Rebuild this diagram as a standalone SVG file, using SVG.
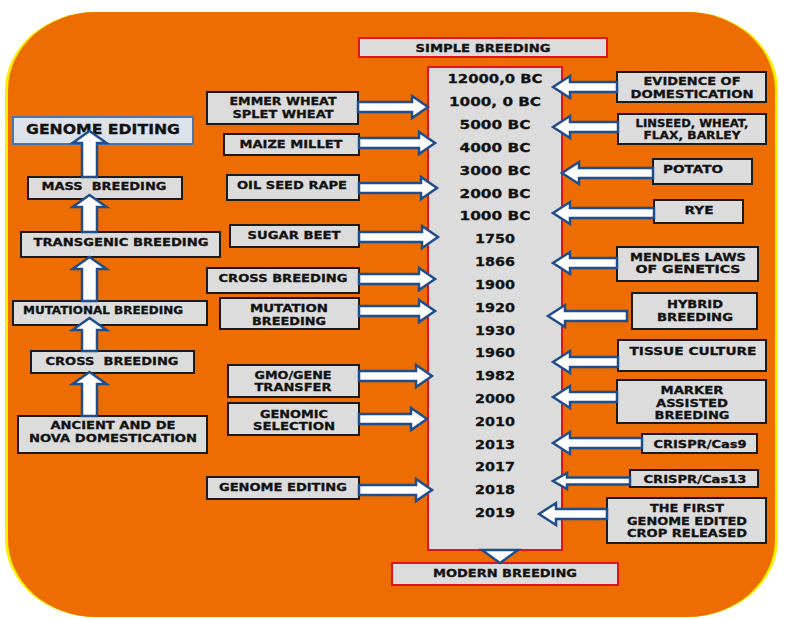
<svg xmlns="http://www.w3.org/2000/svg" width="787" height="619" viewBox="0 0 787 619">
<style>
.bg{fill:#EE6D02}
.bgy{fill:#F8F000}
.box{fill:#DCDCDC;stroke:#1A1A1A;stroke-width:2}
.blue{fill:#DCE2EA;stroke:#4A74B0;stroke-width:2}
.red{fill:#DCDCDC;stroke:#E0141A;stroke-width:2}
.arr{fill:#FFFFFF;stroke:#1F4E8C;stroke-width:2.5;stroke-linejoin:miter}
text{font-family:"DejaVu Sans","Liberation Sans",sans-serif;font-weight:bold;fill:#111;stroke:#111;stroke-width:0.3;text-anchor:middle;font-size:11px}
.yr{font-size:13px}
.big{font-size:14px}
</style>
<rect width="787" height="619" fill="#FFFFFF"/>
<rect class="bgy" x="5" y="12" width="773" height="605" rx="90" ry="78"/>
<rect class="bg" x="8" y="12" width="767" height="605" rx="88" ry="78"/>

<g id="simple-breeding"><rect class="red" x="359" y="38" width="248" height="19"/><text x="483" y="52" textLength="135" lengthAdjust="spacingAndGlyphs">SIMPLE BREEDING</text></g>
<g id="timeline"><rect class="red" x="428" y="67" width="134" height="483"/>
<text class="yr" x="495" y="83" textLength="95" lengthAdjust="spacingAndGlyphs">12000,0 BC</text>
<text class="yr" x="495" y="106" textLength="92" lengthAdjust="spacingAndGlyphs">1000, 0 BC</text>
<text class="yr" x="495" y="129" textLength="71" lengthAdjust="spacingAndGlyphs">5000 BC</text>
<text class="yr" x="495" y="152" textLength="71" lengthAdjust="spacingAndGlyphs">4000 BC</text>
<text class="yr" x="495" y="175" textLength="71" lengthAdjust="spacingAndGlyphs">3000 BC</text>
<text class="yr" x="495" y="198" textLength="71" lengthAdjust="spacingAndGlyphs">2000 BC</text>
<text class="yr" x="495" y="220" textLength="71" lengthAdjust="spacingAndGlyphs">1000 BC</text>
<text class="yr" x="495" y="243" textLength="40" lengthAdjust="spacingAndGlyphs">1750</text>
<text class="yr" x="495" y="266" textLength="40" lengthAdjust="spacingAndGlyphs">1866</text>
<text class="yr" x="495" y="289" textLength="40" lengthAdjust="spacingAndGlyphs">1900</text>
<text class="yr" x="495" y="312" textLength="40" lengthAdjust="spacingAndGlyphs">1920</text>
<text class="yr" x="495" y="335" textLength="40" lengthAdjust="spacingAndGlyphs">1930</text>
<text class="yr" x="495" y="357" textLength="40" lengthAdjust="spacingAndGlyphs">1960</text>
<text class="yr" x="495" y="380" textLength="40" lengthAdjust="spacingAndGlyphs">1982</text>
<text class="yr" x="495" y="403" textLength="40" lengthAdjust="spacingAndGlyphs">2000</text>
<text class="yr" x="495" y="426" textLength="40" lengthAdjust="spacingAndGlyphs">2010</text>
<text class="yr" x="495" y="449" textLength="40" lengthAdjust="spacingAndGlyphs">2013</text>
<text class="yr" x="495" y="471" textLength="40" lengthAdjust="spacingAndGlyphs">2017</text>
<text class="yr" x="495" y="494" textLength="40" lengthAdjust="spacingAndGlyphs">2018</text>
<text class="yr" x="495" y="517" textLength="40" lengthAdjust="spacingAndGlyphs">2019</text>
</g>
<g id="modern-breeding"><rect class="red" x="392" y="563" width="226" height="22"/><text x="505" y="577" textLength="144" lengthAdjust="spacingAndGlyphs">MODERN BREEDING</text></g>

<g id="l-genome-editing"><rect class="blue" x="13" y="117" width="180" height="27"/><text class="big" x="103" y="134" textLength="154" lengthAdjust="spacingAndGlyphs">GENOME EDITING</text></g>
<g id="l-mass"><rect class="box" x="28" y="177" width="154" height="22"/><text x="104" y="190" textLength="125" lengthAdjust="spacingAndGlyphs" xml:space="preserve">MASS  BREEDING</text></g>
<g id="l-transgenic"><rect class="box" x="21" y="232" width="199" height="25"/><text x="121" y="246" textLength="175" lengthAdjust="spacingAndGlyphs">TRANSGENIC BREEDING</text></g>
<g id="l-mutational"><rect class="box" x="13" y="301" width="194" height="24"/><text x="103" y="314" style="font-size:10px" textLength="160" lengthAdjust="spacingAndGlyphs">MUTATIONAL BREEDING</text></g>
<g id="l-cross"><rect class="box" x="31" y="351" width="163" height="22"/><text x="112" y="365" textLength="133" lengthAdjust="spacingAndGlyphs" xml:space="preserve">CROSS  BREEDING</text></g>
<g id="l-ancient"><rect class="box" x="18" y="416" width="189" height="37"/><text x="113" y="429" textLength="125" lengthAdjust="spacingAndGlyphs">ANCIENT AND DE</text><text x="113" y="442" textLength="168" lengthAdjust="spacingAndGlyphs">NOVA DOMESTICATION</text></g>

<g id="m-emmer"><rect class="box" x="207" y="92" width="151" height="32"/><text x="283" y="105" textLength="107" lengthAdjust="spacingAndGlyphs">EMMER WHEAT</text><text x="283" y="118" textLength="101" lengthAdjust="spacingAndGlyphs">SPLET WHEAT</text></g>
<g id="m-maize"><rect class="box" x="224" y="134" width="135" height="21"/><text x="291" y="148" textLength="103" lengthAdjust="spacingAndGlyphs">MAIZE MILLET</text></g>
<g id="m-oil"><rect class="box" x="227" y="175" width="132" height="25"/><text x="292" y="189" textLength="110" lengthAdjust="spacingAndGlyphs">OIL SEED RAPE</text></g>
<g id="m-sugar"><rect class="box" x="230" y="225" width="129" height="22"/><text x="294" y="239" textLength="93" lengthAdjust="spacingAndGlyphs">SUGAR BEET</text></g>
<g id="m-cross"><rect class="box" x="207" y="268" width="152" height="25"/><text x="283" y="282" textLength="129" lengthAdjust="spacingAndGlyphs">CROSS BREEDING</text></g>
<g id="m-mutation"><rect class="box" x="220" y="298" width="139" height="31"/><text x="289" y="312" textLength="78" lengthAdjust="spacingAndGlyphs">MUTATION</text><text x="289" y="325" textLength="74" lengthAdjust="spacingAndGlyphs">BREEDING</text></g>
<g id="m-gmo"><rect class="box" x="228" y="365" width="131" height="32"/><text x="293" y="379" textLength="77" lengthAdjust="spacingAndGlyphs">GMO/GENE</text><text x="293" y="391" textLength="77" lengthAdjust="spacingAndGlyphs">TRANSFER</text></g>
<g id="m-genomic"><rect class="box" x="228" y="403" width="131" height="32"/><text x="294" y="418" textLength="68" lengthAdjust="spacingAndGlyphs">GENOMIC</text><text x="294" y="430" textLength="82" lengthAdjust="spacingAndGlyphs">SELECTION</text></g>
<g id="m-genome-editing"><rect class="box" x="207" y="477" width="152" height="22"/><text x="283" y="491" textLength="128" lengthAdjust="spacingAndGlyphs">GENOME EDITING</text></g>

<g id="r-evidence"><rect class="box" x="617" y="72" width="149" height="30"/><text x="692" y="85" textLength="97" lengthAdjust="spacingAndGlyphs">EVIDENCE OF</text><text x="692" y="98" textLength="123" lengthAdjust="spacingAndGlyphs">DOMESTICATION</text></g>
<g id="r-linseed"><rect class="box" x="618" y="114" width="148" height="30"/><text x="692" y="127" style="font-size:10px" textLength="113" lengthAdjust="spacingAndGlyphs">LINSEED, WHEAT,</text><text x="692" y="139" style="font-size:10px" textLength="97" lengthAdjust="spacingAndGlyphs">FLAX, BARLEY</text></g>
<g id="r-potato"><rect class="box" x="653" y="159" width="99" height="25"/><text x="693" y="173" textLength="60" lengthAdjust="spacingAndGlyphs">POTATO</text></g>
<g id="r-rye"><rect class="box" x="654" y="200" width="89" height="23"/><text x="699" y="214" textLength="29" lengthAdjust="spacingAndGlyphs">RYE</text></g>
<g id="r-mendles"><rect class="box" x="617" y="247" width="141" height="34"/><text x="688" y="261" textLength="116" lengthAdjust="spacingAndGlyphs">MENDLES LAWS</text><text x="688" y="273" textLength="105" lengthAdjust="spacingAndGlyphs">OF GENETICS</text></g>
<g id="r-hybrid"><rect class="box" x="632" y="293" width="125" height="36"/><text x="695" y="308" textLength="56" lengthAdjust="spacingAndGlyphs">HYBRID</text><text x="695" y="321" textLength="76" lengthAdjust="spacingAndGlyphs">BREEDING</text></g>
<g id="r-tissue"><rect class="box" x="618" y="340" width="148" height="31"/><text x="693" y="355" textLength="127" lengthAdjust="spacingAndGlyphs">TISSUE CULTURE</text></g>
<g id="r-marker"><rect class="box" x="617" y="380" width="149" height="43"/><text x="692" y="394" textLength="63" lengthAdjust="spacingAndGlyphs">MARKER</text><text x="692" y="407" textLength="72" lengthAdjust="spacingAndGlyphs">ASSISTED</text><text x="692" y="419" textLength="75" lengthAdjust="spacingAndGlyphs">BREEDING</text></g>
<g id="r-cas9"><rect class="box" x="642" y="434" width="115" height="19"/><text x="700" y="448" textLength="93" lengthAdjust="spacingAndGlyphs">CRISPR/Cas9</text></g>
<g id="r-cas13"><rect class="box" x="630" y="470" width="128" height="17"/><text x="695" y="483" textLength="103" lengthAdjust="spacingAndGlyphs">CRISPR/Cas13</text></g>
<g id="r-first"><rect class="box" x="607" y="498" width="159" height="45"/><text x="687" y="512" textLength="74" lengthAdjust="spacingAndGlyphs">THE FIRST</text><text x="687" y="525" textLength="120" lengthAdjust="spacingAndGlyphs">GENOME EDITED</text><text x="687" y="537" textLength="120" lengthAdjust="spacingAndGlyphs">CROP RELEASED</text></g>

<g id="connectors">
<polygon class="arr" points="482,550 518,550 500,563"/>
<polygon class="arr" points="82,177 82,143 72.5,143 89.5,131 106.5,143 97,143 97,177"/>
<polygon class="arr" points="82,232 82,207 72.5,207 89.5,195 106.5,207 97,207 97,232"/>
<polygon class="arr" points="82,301 82,269 72.5,269 89.5,257 106.5,269 97,269 97,301"/>
<polygon class="arr" points="82,351 82,330 72.5,330 89.5,318 106.5,330 97,330 97,351"/>
<polygon class="arr" points="82,416 82,384 72.5,384 89.5,372 106.5,384 97,384 97,416"/>
<polygon class="arr" points="358,102 412,102 412,96 428,107 412,118 412,112 358,112"/>
<polygon class="arr" points="359,138 419,138 419,132 435,143 419,154 419,148 359,148"/>
<polygon class="arr" points="359,183 421,183 421,177 437,188 421,199 421,193 359,193"/>
<polygon class="arr" points="359,232 422,232 422,226 438,237 422,248 422,242 359,242"/>
<polygon class="arr" points="359,274 419,274 419,268 435,279 419,290 419,284 359,284"/>
<polygon class="arr" points="359,306 419,306 419,300 435,311 419,322 419,316 359,316"/>
<polygon class="arr" points="359,371 416,371 416,365 432,376 416,387 416,381 359,381"/>
<polygon class="arr" points="359,414 411,414 411,408 427,419 411,430 411,424 359,424"/>
<polygon class="arr" points="359,485 416,485 416,479 432,490 416,501 416,495 359,495"/>
<polygon class="arr" points="617,82 570,82 570,76 553,87 570,98 570,92 617,92"/>
<polygon class="arr" points="618,122 570,122 570,116 553,127 570,138 570,132 618,132"/>
<polygon class="arr" points="653,168 579,168 579,162 562,173 579,184 579,178 653,178"/>
<polygon class="arr" points="654,208 570,208 570,202 553,213 570,224 570,218 654,218"/>
<polygon class="arr" points="617,258 570,258 570,252 553,263 570,274 570,268 617,268"/>
<polygon class="arr" points="627,311 565,311 565,305 548,316 565,327 565,321 627,321"/>
<polygon class="arr" points="618,357 570,357 570,351 553,362 570,373 570,367 618,367"/>
<polygon class="arr" points="617,392 570,392 570,386 553,397 570,408 570,402 617,402"/>
<polygon class="arr" points="642,438 570,438 570,432 553,443 570,454 570,448 642,448"/>
<polygon class="arr" points="630,477.5 567,477.5 567,473 553,481 567,489 567,484.5 630,484.5"/>
<polygon class="arr" points="607,509 556,509 556,503 539,514 556,525 556,519 607,519"/>
</g>
</svg>
